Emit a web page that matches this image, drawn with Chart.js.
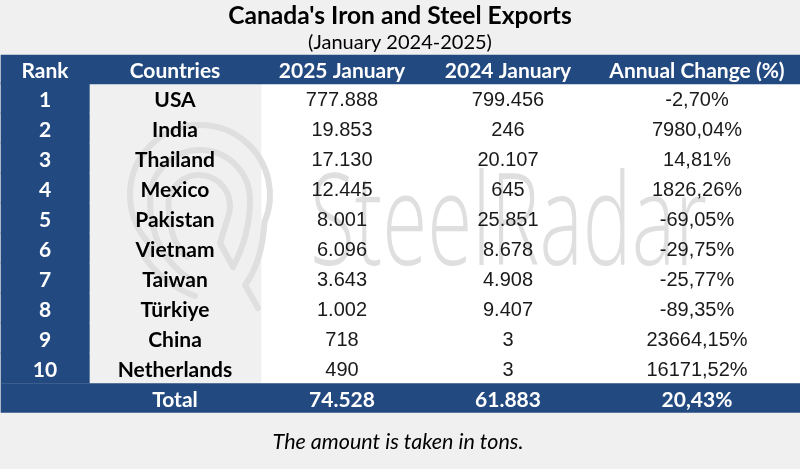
<!DOCTYPE html>
<html>
<head>
<meta charset="utf-8">
<title>Canada's Iron and Steel Exports</title>
<script src="https://cdn.jsdelivr.net/npm/chart.js@4"></script>
<style>
  html, body { margin: 0; padding: 0; background: #f0f0f0; }
  #wrap { width: 800px; height: 469px; position: relative; }
</style>
</head>
<body>
<div id="wrap"><canvas id="table"></canvas></div>
<script>
// table content, cells kept as printed
const headers = ['Rank', 'Countries', '2025 January', '2024 January', 'Annual Change (%)'];
const ranks = ['1', '2', '3', '4', '5', '6', '7', '8', '9', '10'];
const countries = ['USA', 'India', 'Thailand', 'Mexico', 'Pakistan', 'Vietnam', 'Taiwan', 'Türkiye', 'China', 'Netherlands'];
const jan2025 = ['777.888', '19.853', '17.130', '12.445', '8.001', '6.096', '3.643', '1.002', '718', '490'];
const jan2024 = ['799.456', '246', '20.107', '645', '25.851', '8.678', '4.908', '9.407', '3', '3'];
const annualChange = ['-2,70%', '7980,04%', '14,81%', '1826,26%', '-69,05%', '-29,75%', '-25,77%', '-89,35%', '23664,15%', '16171,52%'];
const totals = ['Total', '74.528', '61.883', '20,43%'];

const title = "Canada's Iron and Steel Exports";
const subtitle = '(January 2024-2025)';
const footnote = 'The amount is taken in tons.';
const watermark = 'SteelRadar';

// row 0 is the header, 1-10 the ranks, 11 the total
const rowIndex = ranks.map((r, i) => i + 1);
const NAVY = '#234a80';
const GREY = '#f0f0f0';
const MARK = '#dfdfdf';

// column edges and centres on the x scale
const colLeft = 1, colRank = 90, colCountry = 261, colRight = 800;
const colCentres = [45, 175, 342, 508, 697];

const drawWatermark = (ctx) => {
    ctx.save();
    ctx.strokeStyle = MARK;
    ctx.fillStyle = MARK;
    ctx.lineWidth = 6;
    ctx.lineCap = 'round';
    ctx.lineJoin = 'round';

    // outer ring with its tail
    ctx.beginPath();
    ctx.moveTo(195, 296);
    ctx.quadraticCurveTo(165, 285, 145, 258);
    ctx.arc(200, 195, 70, 2.3, 0.4);
    ctx.quadraticCurveTo(262, 262, 245, 285);
    ctx.lineTo(258, 308);
    ctx.stroke();

    // inner spiral
    ctx.beginPath();
    ctx.moveTo(187, 257);
    ctx.quadraticCurveTo(172, 245, 169, 215);
    ctx.arc(199, 206, 31, Math.PI * 1.05, Math.PI * 2.1);
    ctx.lineTo(220, 243);
    ctx.lineTo(233, 267);
    ctx.quadraticCurveTo(250, 235, 250, 200);
    ctx.arc(200, 200, 50, 0, Math.PI, true);
    ctx.quadraticCurveTo(150, 255, 193, 281);
    ctx.stroke();

    // wordmark is narrow and tall, so squeeze it to fit
    ctx.font = '300 128px "Open Sans"';
    ctx.textAlign = 'left';
    ctx.textBaseline = 'alphabetic';
    const squeeze = 397 / ctx.measureText(watermark).width;
    ctx.translate(310, 265);
    ctx.scale(squeeze, 1);
    ctx.fillText(watermark, 0, 0);
    ctx.restore();
};

const tableText = {
    id: 'tableText',
    afterDatasetsDraw(chart) {
        const { ctx, scales: { x, y } } = chart;
        const cx = i => x.getPixelForValue(colCentres[i]);
        const ry = r => y.getPixelForValue(r) + 2;

        drawWatermark(ctx);

        ctx.save();
        ctx.textAlign = 'center';
        ctx.textBaseline = 'middle';

        ctx.fillStyle = '#000';
        ctx.font = 'bold 24.6px Lato';
        ctx.fillText(title, 400, 16);
        ctx.font = '20px Lato';
        ctx.fillText(subtitle, 400, 43);
        ctx.font = 'italic 21.5px Lato';
        ctx.fillText(footnote, 398, 442);

        ctx.fillStyle = '#fff';
        ctx.font = 'bold 21px Lato';
        headers.forEach((h, i) => ctx.fillText(h, cx(i), ry(0) + 1));
        ranks.forEach((r, i) => ctx.fillText(r, cx(0), ry(rowIndex[i])));
        totals.forEach((t, i) => ctx.fillText(t, cx(i + 1), ry(11)));

        ctx.fillStyle = '#000';
        countries.forEach((c, i) => ctx.fillText(c, cx(1), ry(rowIndex[i])));

        ctx.fillStyle = '#1a1a1a';
        ctx.font = '20px "Liberation Sans"';
        jan2025.forEach((v, i) => ctx.fillText(v, cx(2), ry(rowIndex[i])));
        jan2024.forEach((v, i) => ctx.fillText(v, cx(3), ry(rowIndex[i])));
        annualChange.forEach((v, i) => ctx.fillText(v, cx(4), ry(rowIndex[i])));
        ctx.restore();
    }
};

new Chart(document.getElementById('table'), {
    type: 'bar',
    data: {
        datasets: [
            {
                // white value area
                data: rowIndex.map(r => ({ y: r, x: [colCountry, colRight] })),
                backgroundColor: '#ffffff', barThickness: 30.5, grouped: false, order: 3
            },
            {
                // grey countries column
                data: rowIndex.map(r => ({ y: r, x: [colRank, colCountry] })),
                backgroundColor: GREY, barThickness: 30.5, grouped: false, order: 2
            },
            {
                // navy rank column
                data: rowIndex.map(r => ({ y: r, x: [colLeft, colRank] })),
                backgroundColor: NAVY, barThickness: 30.5, grouped: false, order: 2
            },
            {
                // header and total bands
                data: [0.05, 11].map(r => ({ y: r, x: [colLeft, colRight] })),
                backgroundColor: NAVY, barThickness: 29, grouped: false, order: 1
            }
        ]
    },
    options: {
        indexAxis: 'y',
        responsive: true,
        maintainAspectRatio: false,
        animation: false,
        layout: { padding: 0 },
        plugins: { legend: { display: false }, tooltip: { enabled: false } },
        scales: {
            x: { type: 'linear', display: false, min: 0, max: 800 },
            // 30px per row, header centred at y=68
            y: { type: 'linear', display: false, offset: false, min: -68 / 30, max: 401 / 30, reverse: true }
        }
    },
    plugins: [tableText]
});
</script>
</body>
</html>
